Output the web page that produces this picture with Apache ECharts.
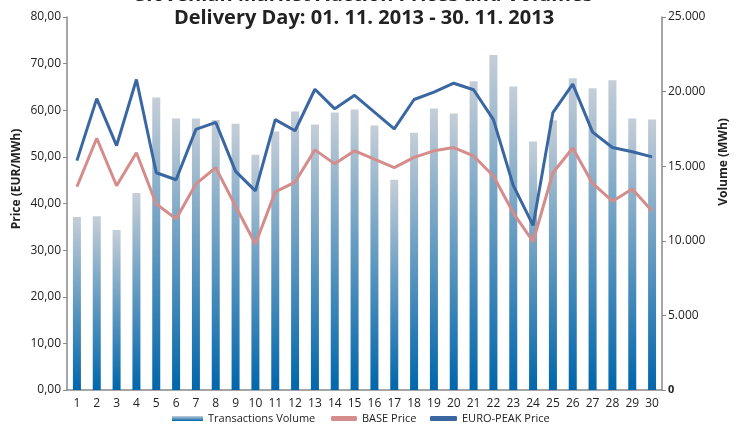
<!DOCTYPE html>
<html><head><meta charset="utf-8">
<script src="https://cdn.jsdelivr.net/npm/echarts@6/dist/echarts.min.js"></script>
<style>html,body{margin:0;padding:0;background:#fff}#c{width:740px;height:425px}</style>
</head><body><div id="c"></div>
<script>
const days = ['1','2','3','4','5','6','7','8','9','10','11','12','13','14','15','16','17','18','19','20','21','22','23','24','25','26','27','28','29','30'];
const volume = [11600,11650,10720,13200,19600,18200,18200,18100,17850,15770,17320,18670,17790,18600,18800,17720,14090,17250,18870,18530,20690,22460,20350,16650,18080,20890,20220,20760,18200,18130];
const basePrice = [43.6,54.0,43.8,50.9,39.9,36.7,44.2,47.7,39.4,31.3,42.5,44.6,51.5,48.5,51.3,49.5,47.7,49.9,51.3,52.0,50.2,45.9,38.0,31.8,46.6,51.9,44.3,40.5,43.1,38.4];
const peakPrice = [49.2,62.5,52.4,66.6,46.6,45.1,55.9,57.4,46.9,42.7,58.0,55.6,64.5,60.3,63.2,59.6,56.0,62.3,63.9,65.8,64.4,58.0,43.9,35.3,59.5,65.6,55.3,52.0,51.1,50.0];

const font = 'Open Sans';
const txt = '#222';
const chart = echarts.init(document.getElementById('c'), null, {renderer:'canvas'});
const barGrad = new echarts.graphic.LinearGradient(0,0,0,1,[{offset:0,color:'#c5ced7'},{offset:1,color:'#0066ab'}]);
const legendText = {fontFamily:font, fontSize:11, color:txt};
function mkLegend(name, icon, left, w){
  return {top:413, left:left, padding:0, itemWidth:w, itemHeight:5, itemGap:0, textStyle:legendText, data:[{name:name, icon:icon}]};
}
chart.setOption({
  animation:false,
  graphic:[
    {type:'text', x:364, y:-5, style:{text:'Slovenian Market Auction Prices and Volumes', align:'center', verticalAlign:'middle', font:'bold 20px "Open Sans"', fill:txt}},
    {type:'text', x:364, y:18, style:{text:'Delivery Day: 01. 11. 2013 - 30. 11. 2013', align:'center', verticalAlign:'middle', font:'bold 20px "Open Sans"', fill:txt}},
    {type:'text', x:17, y:179, rotation:Math.PI/2, style:{text:'Price (EUR/MWh)', align:'center', verticalAlign:'middle', font:'bold 12px "Open Sans"', fill:txt}},
    {type:'text', x:724, y:162, rotation:Math.PI/2, style:{text:'Volume (MWh)', align:'center', verticalAlign:'middle', font:'bold 12px "Open Sans"', fill:txt}}
  ],
  grid:{left:67, right:78, top:17, bottom:35},
  legend:[
    mkLegend('Transactions Volume','rect',172,31),
    mkLegend('BASE Price','roundRect',331,26),
    mkLegend('EURO-PEAK Price','roundRect',430,27)
  ],
  xAxis:{
    type:'category', data:days,
    axisLine:{lineStyle:{color:'#888', width:1.5}},
    axisTick:{show:false},
    axisLabel:{fontFamily:font, fontSize:12, color:txt, margin:8}
  },
  yAxis:[
    {type:'value', min:0, max:80, interval:10, position:'left',
     axisLine:{show:true, lineStyle:{color:'#888', width:1.5}},
     axisTick:{show:true, length:4, lineStyle:{color:'#888'}},
     splitLine:{show:false},
     axisLabel:{fontFamily:font, fontSize:12, color:txt, margin:6, formatter:v=>v.toFixed(2).replace('.',',')}},
    {type:'value', min:0, max:25000, interval:5000, position:'right',
     axisLine:{show:true, lineStyle:{color:'#888', width:1.5}},
     axisTick:{show:true, length:4, lineStyle:{color:'#888'}},
     splitLine:{show:false},
     axisLabel:{fontFamily:font, fontSize:12, color:txt, margin:6,
       formatter:v=> v===0 ? '{b|0}' : (v/1000).toFixed(3),
       rich:{b:{fontWeight:'bold', fontFamily:font, fontSize:11, color:txt}}}}
  ],
  series:[
    {name:'Transactions Volume', type:'bar', yAxisIndex:1, data:volume, barWidth:8,
     itemStyle:{color:barGrad}},
    {name:'BASE Price', type:'line', yAxisIndex:0, data:basePrice, symbol:'none',
     lineStyle:{color:'#d58d8b', width:3}, itemStyle:{color:'#d58d8b'}},
    {name:'EURO-PEAK Price', type:'line', yAxisIndex:0, data:peakPrice, symbol:'none',
     lineStyle:{color:'#3a67a2', width:3}, itemStyle:{color:'#3a67a2'}}
  ]
});
</script></body></html>
